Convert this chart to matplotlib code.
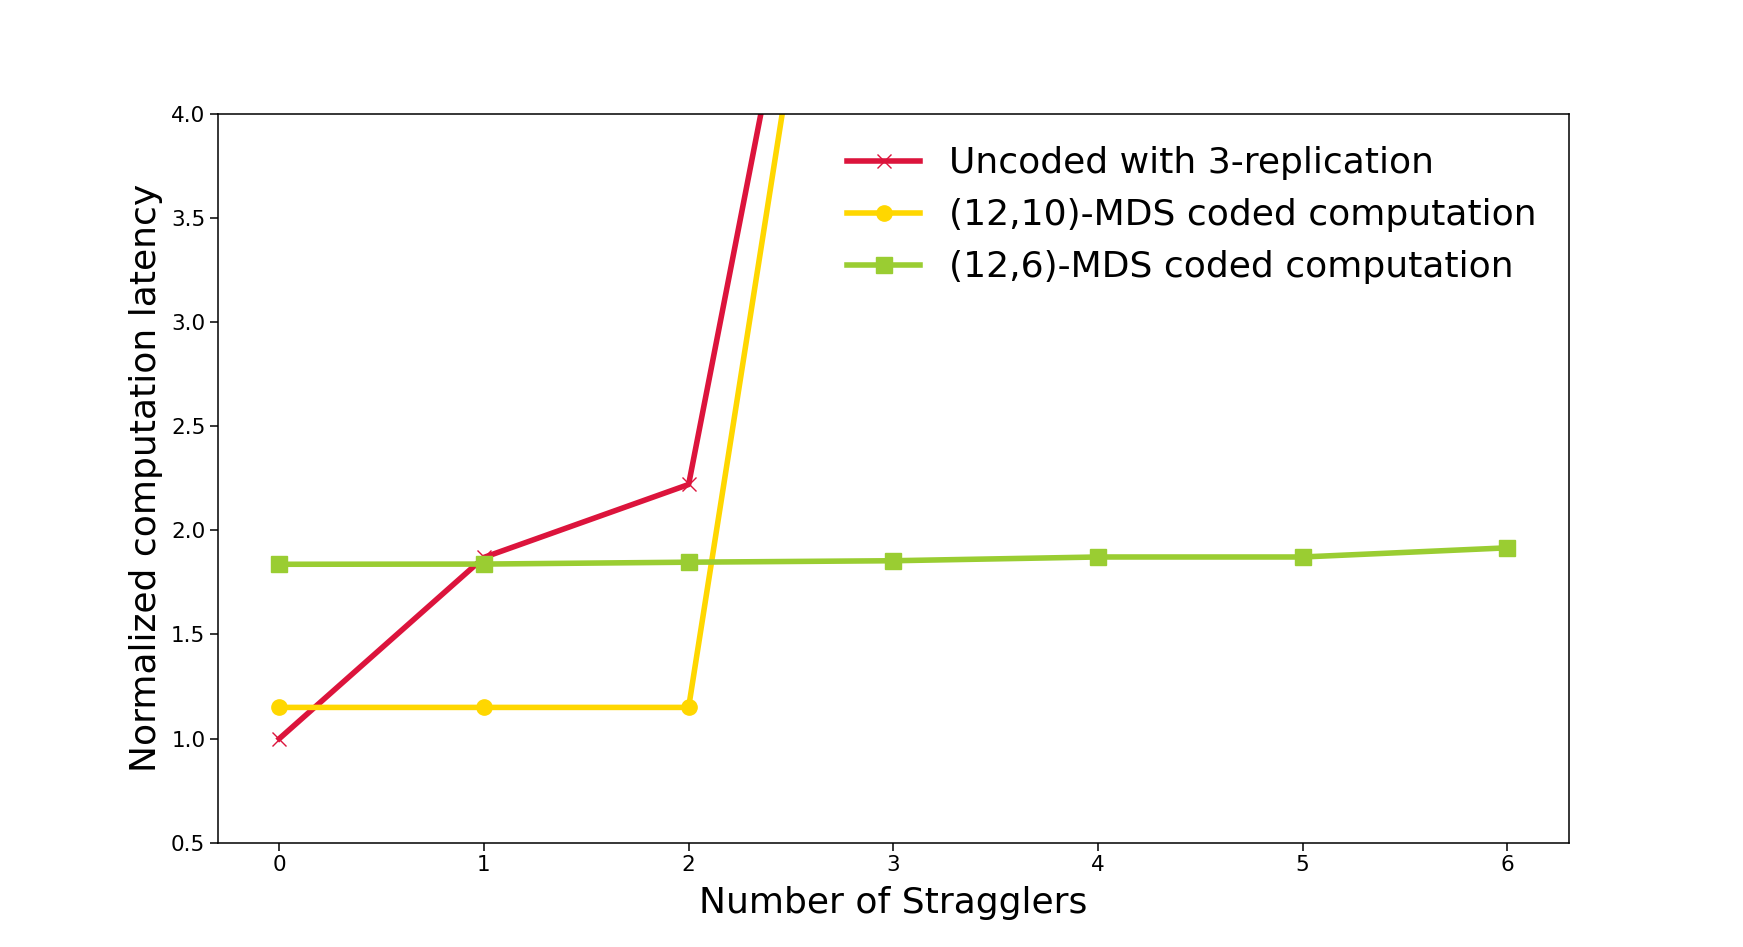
import numpy as np
import matplotlib
matplotlib.use("Agg")
import matplotlib.pyplot as plt

# straggler counts
stragglers = [0, 1, 2, 3, 4, 5, 6]

# latency values (red/yellow shoot past the top at x=3)
uncoded = [1.00, 1.87, 2.22, 7.26]
mds_12_10 = [1.15, 1.15, 1.15, 7.38]
mds_12_6 = [1.837, 1.838, 1.847, 1.854, 1.872, 1.872, 1.916]

labels = ["Uncoded with 3-replication",
          "(12,10)-MDS coded computation",
          "(12,6)-MDS coded computation"]


def main():
    fig, ax = plt.subplots(figsize=(17.43, 9.47), dpi=100)

    ax.plot(stragglers[:len(uncoded)], uncoded, color="crimson", marker="x",
            markersize=10, linewidth=4, label=labels[0])
    ax.plot(stragglers[:len(mds_12_10)], mds_12_10, color="gold", marker="o",
            markersize=11, linewidth=4, label=labels[1])
    ax.plot(stragglers, mds_12_6, color="yellowgreen", marker="s",
            markersize=11, linewidth=4, label=labels[2])

    ax.set_xlim(-0.3, 6.3)
    ax.set_ylim(0.5, 4.0)
    ax.set_xticks(stragglers)
    ax.tick_params(labelsize=15.5, length=5.5, width=1.1)
    for s in ax.spines.values():
        s.set_linewidth(1.1)

    ax.set_xlabel("Number of Stragglers", fontsize=26, labelpad=8)
    ax.set_ylabel("Normalized computation latency", fontsize=26, labelpad=6)
    ax.legend(loc="upper right", fontsize=26, frameon=False)

    fig.savefig("out.png", dpi=100)


if __name__ == '__main__':
    main()
